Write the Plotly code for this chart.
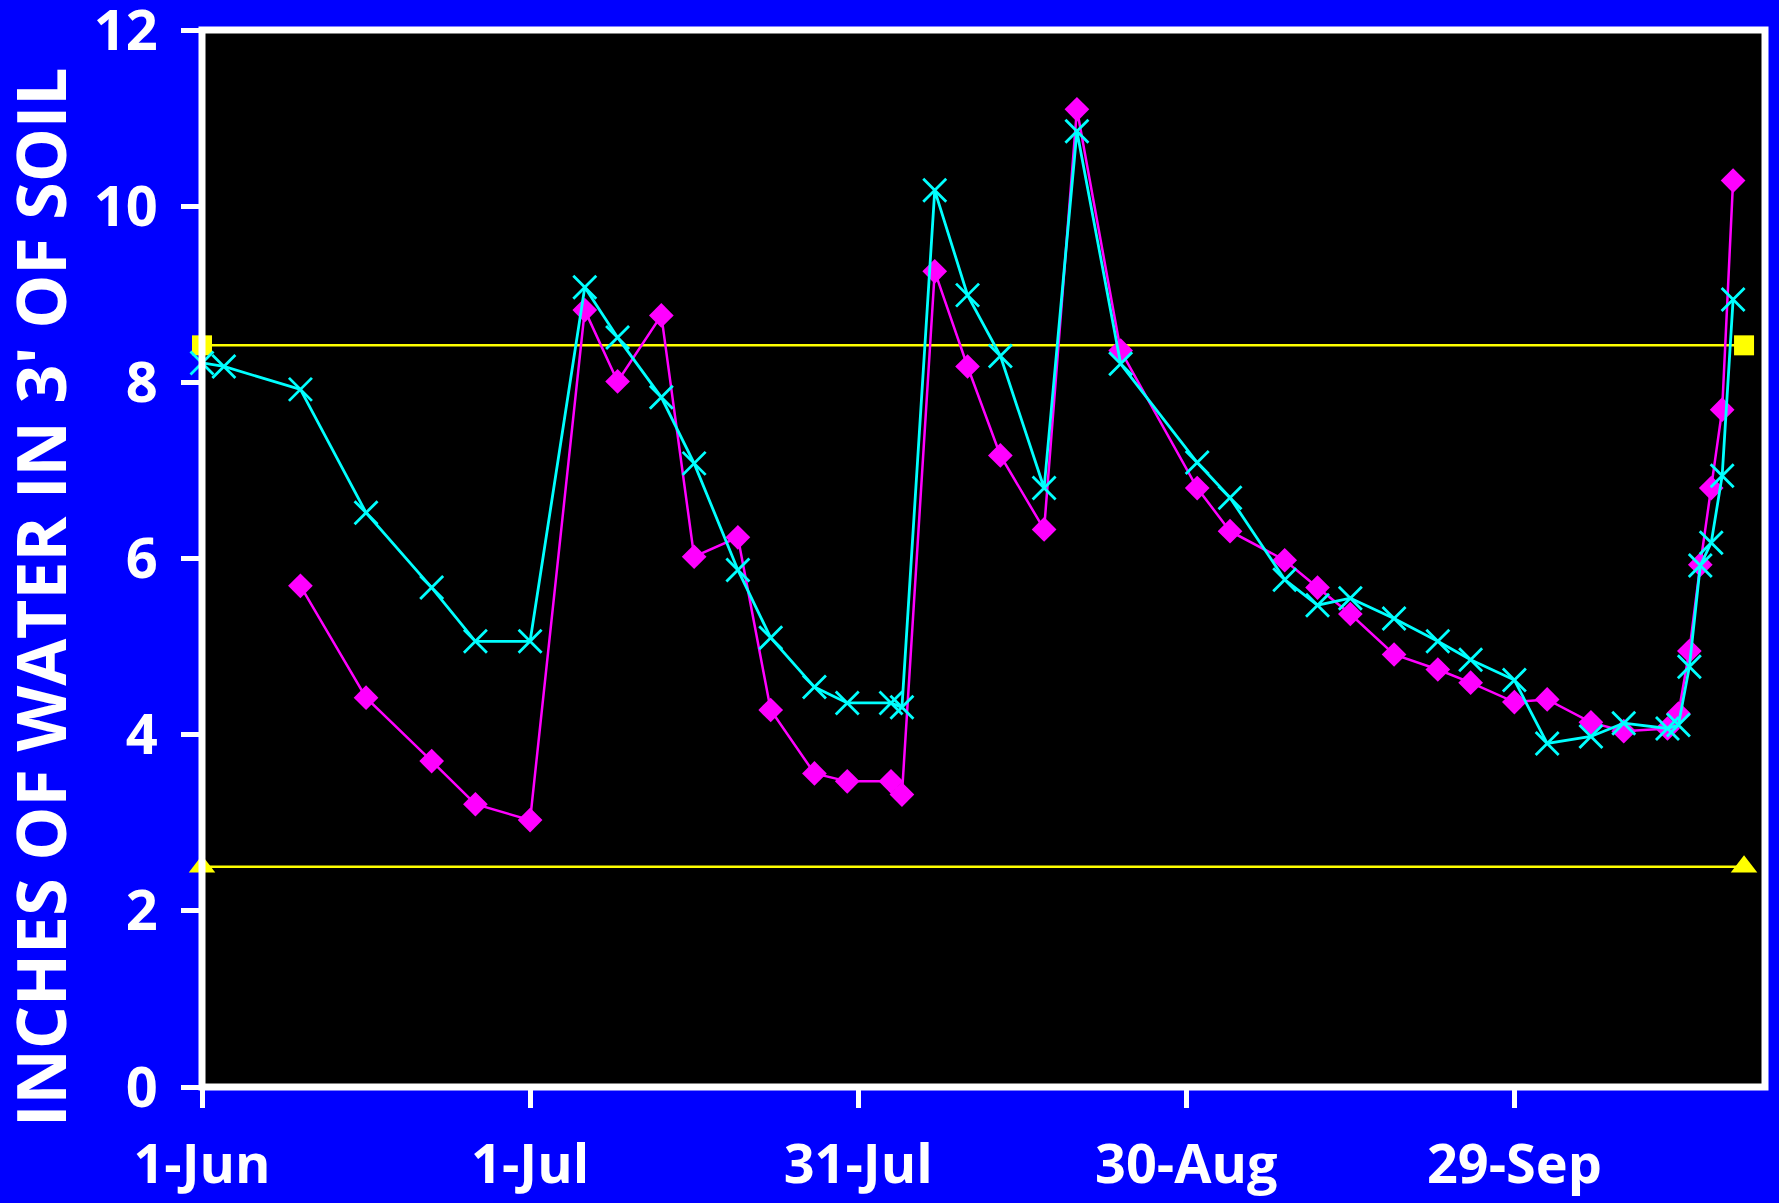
import plotly.graph_objects as go

# ---- data ----
tick_dates = ["2002-06-01", "2002-07-01", "2002-07-31", "2002-08-30", "2002-09-29"]
tick_labels = ["1-Jun", "1-Jul", "31-Jul", "30-Aug", "29-Sep"]
y_ticks = [0, 2, 4, 6, 8, 10, 12]

magenta_dates = ["2002-06-10", "2002-06-16", "2002-06-22", "2002-06-26", "2002-07-01",
                 "2002-07-06", "2002-07-09", "2002-07-13", "2002-07-16", "2002-07-20",
                 "2002-07-23", "2002-07-27", "2002-07-30", "2002-08-03", "2002-08-04",
                 "2002-08-07", "2002-08-10", "2002-08-13", "2002-08-17", "2002-08-20",
                 "2002-08-24", "2002-08-31", "2002-09-03", "2002-09-08", "2002-09-11",
                 "2002-09-14", "2002-09-18", "2002-09-22", "2002-09-25", "2002-09-29",
                 "2002-10-02", "2002-10-06", "2002-10-09", "2002-10-13", "2002-10-14",
                 "2002-10-15", "2002-10-16", "2002-10-17", "2002-10-18", "2002-10-19"]
magenta_values = [5.69, 4.42, 3.70, 3.21, 3.03,
                  8.82, 8.01, 8.76, 6.02, 6.24,
                  4.28, 3.56, 3.47, 3.47, 3.32,
                  9.26, 8.18, 7.17, 6.33, 11.10,
                  8.36, 6.80, 6.31, 5.98, 5.67,
                  5.37, 4.91, 4.74, 4.59, 4.37,
                  4.40, 4.14, 4.04, 4.07, 4.24,
                  4.95, 5.93, 6.80, 7.69, 10.29]

cyan_dates = ["2002-06-01", "2002-06-03", "2002-06-10", "2002-06-16", "2002-06-22",
              "2002-06-26", "2002-07-01", "2002-07-06", "2002-07-09", "2002-07-13",
              "2002-07-16", "2002-07-20", "2002-07-23", "2002-07-27", "2002-07-30",
              "2002-08-03", "2002-08-04", "2002-08-07", "2002-08-10", "2002-08-13",
              "2002-08-17", "2002-08-20", "2002-08-24", "2002-08-31", "2002-09-03",
              "2002-09-08", "2002-09-11", "2002-09-14", "2002-09-18", "2002-09-22",
              "2002-09-25", "2002-09-29", "2002-10-02", "2002-10-06", "2002-10-09",
              "2002-10-13", "2002-10-14", "2002-10-15", "2002-10-16", "2002-10-17",
              "2002-10-18", "2002-10-19"]
cyan_values = [8.22, 8.18, 7.92, 6.52, 5.67,
               5.06, 5.06, 9.08, 8.51, 7.83,
               7.08, 5.87, 5.10, 4.54, 4.36,
               4.36, 4.31, 10.18, 8.99, 8.30,
               6.80, 10.85, 8.21, 7.09, 6.69,
               5.76, 5.47, 5.55, 5.32, 5.06,
               4.85, 4.62, 3.90, 3.98, 4.13,
               4.07, 4.11, 4.77, 5.92, 6.18,
               6.94, 8.94]

limit_dates = ["2002-06-01", "2002-10-20"]
upper_limit = [8.42, 8.42]
lower_limit = [2.5, 2.5]

y_title = "INCHES OF WATER IN 3' OF SOIL"

# ---- figure ----
YELLOW = "#FFFF00"
MAGENTA = "#FF00FF"
CYAN = "#00FFFF"

fig = go.Figure()
fig.add_trace(go.Scatter(x=limit_dates, y=upper_limit, mode="lines+markers",
                         line=dict(color=YELLOW, width=2.5),
                         marker=dict(symbol="square", size=20, color=YELLOW),
                         cliponaxis=False, showlegend=False))
fig.add_trace(go.Scatter(x=limit_dates, y=lower_limit, mode="lines+markers",
                         line=dict(color=YELLOW, width=2.5),
                         marker=dict(symbol="triangle-up", size=23, color=YELLOW),
                         cliponaxis=False, showlegend=False))
fig.add_trace(go.Scatter(x=magenta_dates, y=magenta_values, mode="lines+markers",
                         line=dict(color=MAGENTA, width=2.5),
                         marker=dict(symbol="diamond", size=19, color=MAGENTA),
                         cliponaxis=False, showlegend=False))
fig.add_trace(go.Scatter(x=cyan_dates, y=cyan_values, mode="lines+markers",
                         line=dict(color=CYAN, width=2.8),
                         marker=dict(symbol="x-thin", size=23,
                                     line=dict(color=CYAN, width=2.8)),
                         cliponaxis=False, showlegend=False))

x_tick_font = dict(family="Open Sans", size=54, color="white", weight="bold")
y_tick_font = dict(family="Open Sans", size=56, color="white", weight="bold")

fig.update_layout(
    width=1779, height=1203,
    paper_bgcolor="#0000FF", plot_bgcolor="#000000",
    margin=dict(l=202, r=14, t=30, b=116, pad=0, autoexpand=False),
    xaxis=dict(type="date", range=["2002-06-01", "2002-10-21 22:00"],
               tickvals=tick_dates, ticktext=tick_labels,
               showgrid=False, zeroline=False, showline=False, automargin=False,
               ticks="outside", ticklen=20, tickwidth=5, tickcolor="white",
               tickfont=x_tick_font, ticklabelstandoff=10,
               ticklabeloverflow="allow"),
    yaxis=dict(range=[0, 12], tickvals=y_ticks,
               showgrid=False, zeroline=False, showline=False, automargin=False,
               ticks="outside", ticklen=20, tickwidth=5, tickcolor="white",
               tickfont=y_tick_font, ticklabelstandoff=12,
               ticklabeloverflow="allow"),
    shapes=[dict(type="rect", xref="paper", yref="paper", x0=0, x1=1, y0=0, y1=1,
                 line=dict(color="white", width=7), layer="above")],
    annotations=[dict(text=y_title, textangle=-90, showarrow=False,
                      xref="paper", yref="paper", x=-0.1041, y=0.4638,
                      xanchor="center", yanchor="middle",
                      font=dict(family="Open Sans", size=68, color="white", weight="bold"))],
)

fig.write_html("out.html", config={"displayModeBar": False},
               post_script="document.body.style.margin='0px';")
